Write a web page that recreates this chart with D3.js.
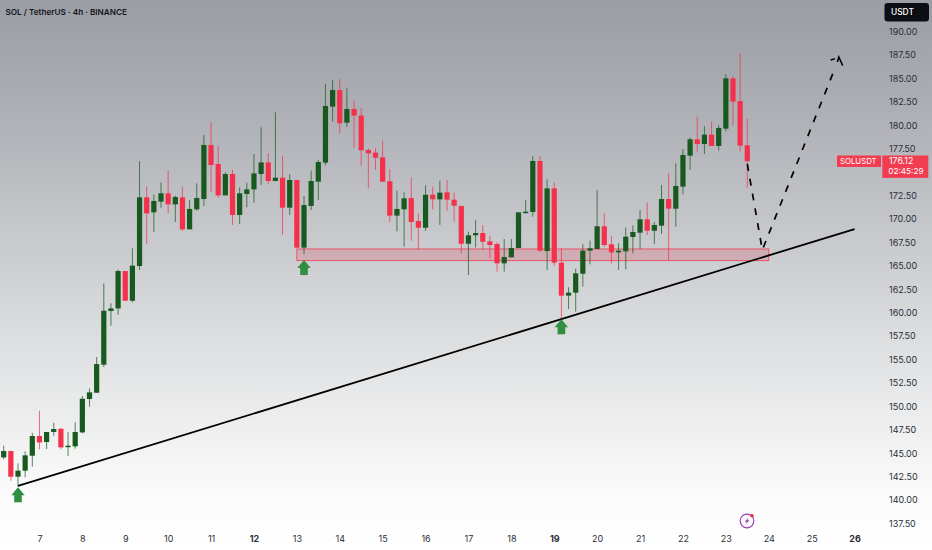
<!DOCTYPE html>
<html>
<head>
<meta charset="utf-8">
<script src="https://cdn.jsdelivr.net/npm/d3@7"></script>
<style>
  html, body { margin: 0; padding: 0; background: #fff; }
  svg { display: block; }
  text { font-family: Inter, "Noto Sans", sans-serif; }
</style>
</head>
<body>
<div id="chart"></div>
<script>
// 4h candles
const opens = [
  144.50, 145.18, 142.44, 143.08, 144.68, 146.78, 146.14, 147.21, 147.56, 145.68,
  145.68, 147.17, 150.73, 151.40, 154.39, 160.12, 160.40, 164.39, 161.22, 164.92,
  172.25, 170.65, 171.79, 172.68, 171.50, 172.25, 168.84, 170.97, 172.07, 177.84,
  175.81, 172.46, 174.74, 170.37, 172.61, 173.10, 174.74, 175.98, 173.99, 174.35,
  171.15, 174.10, 166.88, 171.33, 173.92, 175.95, 181.93, 183.70, 180.22, 181.68,
  180.97, 177.30, 177.02, 176.52, 173.96, 170.30, 170.97, 172.18, 169.73, 169.01,
  172.53, 172.04, 172.78, 172.00, 171.33, 167.30, 168.20, 168.44, 167.55, 167.27,
  165.21, 165.85, 166.84, 170.60, 170.69, 176.13, 166.52, 173.21, 165.28, 161.76,
  162.08, 164.10, 166.56, 166.74, 169.16, 167.24, 166.38, 166.49, 168.02, 168.48,
  169.90, 168.69, 169.23, 172.07, 171.04, 173.39, 176.70, 178.44, 177.94, 178.94,
  177.73, 179.58, 184.95, 182.53, 177.80
];
const closes = [
  145.18, 142.44, 143.08, 144.72, 146.78, 146.10, 147.21, 147.53, 145.57, 145.75,
  147.21, 150.76, 151.44, 154.46, 160.15, 160.40, 164.39, 161.22, 164.96, 172.25,
  170.54, 171.86, 172.68, 171.50, 172.29, 168.84, 171.01, 172.18, 177.84, 175.70,
  172.46, 174.74, 170.37, 172.68, 173.10, 174.81, 175.98, 173.99, 174.35, 171.15,
  174.10, 166.88, 171.43, 173.99, 176.02, 182.00, 183.70, 180.15, 181.68, 180.97,
  177.27, 176.95, 176.48, 173.92, 170.30, 171.01, 172.14, 169.62, 169.01, 172.53,
  172.04, 172.75, 172.00, 171.36, 167.30, 168.20, 168.44, 167.52, 167.16, 165.21,
  165.88, 166.84, 170.65, 170.72, 176.13, 166.56, 173.21, 165.28, 161.76, 162.08,
  164.14, 166.56, 166.81, 169.16, 167.16, 166.38, 166.56, 168.05, 168.55, 169.90,
  168.69, 169.30, 172.07, 171.04, 173.46, 176.77, 178.44, 177.94, 178.94, 177.73,
  179.65, 184.95, 182.46, 177.76, 176.12
];
const highs = [
  145.75, 145.20, 143.86, 145.14, 147.13, 149.48, 147.21, 148.20, 147.60, 147.21,
  148.24, 151.05, 151.87, 155.21, 163.07, 160.94, 164.56, 164.40, 166.81, 176.09,
  173.39, 172.54, 173.82, 175.10, 172.43, 173.39, 171.97, 173.74, 178.90, 180.22,
  177.73, 174.92, 175.17, 173.32, 173.82, 176.87, 179.72, 176.95, 181.32, 176.66,
  174.70, 174.10, 172.39, 175.10, 176.23, 184.34, 184.77, 184.88, 183.88, 182.57,
  181.75, 177.48, 177.48, 178.30, 175.27, 172.96, 172.78, 174.38, 170.54, 173.53,
  173.39, 174.03, 174.10, 172.75, 171.33, 168.59, 169.83, 169.30, 168.13, 167.45,
  167.80, 167.80, 170.65, 171.97, 176.66, 176.66, 174.17, 173.82, 166.81, 162.65,
  164.64, 167.27, 167.63, 173.03, 170.54, 168.12, 167.34, 169.05, 169.26, 170.90,
  171.72, 169.62, 173.57, 174.81, 175.88, 177.41, 178.65, 180.86, 179.86, 180.33,
  179.93, 185.38, 185.20, 187.62, 180.65
];
const lows = [
  144.29, 142.01, 141.37, 142.37, 143.51, 145.36, 145.39, 146.81, 145.36, 144.64,
  145.43, 147.06, 149.91, 151.40, 154.14, 158.55, 159.73, 161.20, 161.05, 164.50,
  167.27, 168.55, 171.15, 170.54, 169.62, 168.66, 168.84, 170.83, 171.33, 172.82,
  172.22, 172.46, 169.30, 169.40, 171.18, 171.68, 173.57, 173.67, 173.99, 168.27,
  170.37, 166.85, 166.20, 170.90, 171.96, 175.67, 180.32, 179.08, 179.79, 177.55,
  175.60, 173.21, 175.17, 173.92, 169.62, 168.62, 166.99, 167.63, 166.70, 168.66,
  170.97, 169.30, 170.83, 169.65, 166.27, 163.96, 166.90, 166.70, 165.74, 164.32,
  164.32, 165.85, 166.84, 170.54, 170.19, 166.45, 164.50, 164.92, 159.34, 160.33,
  160.05, 162.72, 165.10, 166.74, 166.99, 165.21, 164.50, 164.57, 166.28, 166.74,
  168.23, 167.27, 168.34, 165.56, 169.12, 172.57, 175.17, 177.09, 176.87, 177.73,
  177.23, 179.29, 179.93, 177.12, 173.28
];

// 175.00 is covered by the last price tag, so it is not listed
const priceTicks = [190, 187.5, 185, 182.5, 180, 177.5, 172.5, 170, 167.5, 165,
  162.5, 160, 157.5, 155, 152.5, 150, 147.5, 145, 142.5, 140, 137.5];
const dayLabels = [7, 8, 9, 10, 11, 12, 13, 14, 15, 16, 17, 18, 19, 20, 21, 22, 23, 24, 25, 26];
const dayCandle = [5, 11, 17, 23, 29, 35, 41, 47, 53, 59, 65, 71, 77, 83, 89, 95, 101, 107, 113, 119];
const boldDays = [12, 19, 26];

const lastPrice = 176.12;
const countdown = "02:45:29";

// drawings, as candle index / price
const zoneIdx = [41, 107];
const zonePrice = [166.74, 165.5];
const trendIdx = [2, 119];
const trendPrice = [141.45, 168.87];
const pathIdx = [104, 106.1, 116.05];
const pathPrice = [175.81, 166.63, 185.62];
const headLeftIdx = [115.66, 116.26];
const headLeftPrice = [186.9, 187.05];
const headRightIdx = [116.6, 116.8, 117.34];
const headRightPrice = [186.69, 187.23, 186.3];
const arrowIdx = [2, 42, 78];
const arrowPrice = [141.31, 165.56, 159.23];

const w = 932, h = 550;
const up = "#17591f", down = "#f5304a";

const x = d3.scaleLinear().domain([0, 104]).range([3.7, 747.3]);
const y = d3.scaleLinear().domain([137.5, 190]).range([523, 31]);

const svg = d3.select("#chart").append("svg").attr("width", w).attr("height", h);

const grad = svg.append("defs").append("linearGradient")
  .attr("id", "bg").attr("x1", 0).attr("y1", 0).attr("x2", 0).attr("y2", 1);
[[0, "#9b9da5"], [0.2, "#adafb5"], [0.45, "#c9cbce"], [0.7, "#e6e7e8"], [0.9, "#fbfbfb"], [1, "#ffffff"]]
  .forEach((s) => grad.append("stop").attr("offset", s[0]).attr("stop-color", s[1]));
svg.append("rect").attr("width", w).attr("height", h).attr("fill", "url(#bg)");

const candles = d3.range(opens.length).map((i) => ({
  i: i, o: opens[i], c: closes[i], h: highs[i], l: lows[i]
}));

// zone goes under the candles
svg.append("rect")
  .attr("x", x(zoneIdx[0]))
  .attr("y", y(zonePrice[0]))
  .attr("width", x(zoneIdx[1]) - x(zoneIdx[0]))
  .attr("height", y(zonePrice[1]) - y(zonePrice[0]))
  .attr("fill", "#e0566a")
  .attr("fill-opacity", 0.28)
  .attr("stroke", "#e8566a")
  .attr("stroke-width", 1);

const bars = svg.append("g").selectAll("g").data(candles).enter().append("g");

bars.append("line")
  .attr("x1", (d) => x(d.i))
  .attr("x2", (d) => x(d.i))
  .attr("y1", (d) => y(d.h))
  .attr("y2", (d) => y(d.l))
  .attr("stroke", (d) => (d.c >= d.o ? up : down))
  .attr("stroke-opacity", 0.72)
  .attr("stroke-width", 1);

bars.append("rect")
  .attr("x", (d) => x(d.i) - 2.6)
  .attr("width", 5.2)
  .attr("y", (d) => y(Math.max(d.o, d.c)))
  .attr("height", (d) => Math.max(1.5, Math.abs(y(d.o) - y(d.c))))
  .attr("fill", (d) => (d.c >= d.o ? up : down));

// trend line
const idxLine = d3.line().x((d) => x(d[0])).y((d) => y(d[1]));
svg.append("path")
  .attr("d", idxLine(d3.zip(trendIdx, trendPrice)))
  .attr("fill", "none")
  .attr("stroke", "#000")
  .attr("stroke-width", 1.8);

// projected path, dashed, then a small broken arrow head
svg.append("path")
  .attr("d", idxLine(d3.zip(pathIdx, pathPrice)))
  .attr("fill", "none")
  .attr("stroke", "#000")
  .attr("stroke-width", 1.7)
  .attr("stroke-dasharray", "7 8");
[d3.zip(headLeftIdx, headLeftPrice), d3.zip(headRightIdx, headRightPrice)].forEach((pts) => {
  svg.append("path")
    .attr("d", idxLine(pts))
    .attr("fill", "none")
    .attr("stroke", "#000")
    .attr("stroke-width", 1.5);
});

// green up arrows, shape is relative to the tip
const arrowShape = "M0,0 L6.7,8 L3.8,8 L3.8,15 L-3.8,15 L-3.8,8 L-6.7,8 Z";
svg.append("g").selectAll("path").data(d3.zip(arrowIdx, arrowPrice)).enter().append("path")
  .attr("d", arrowShape)
  .attr("transform", (d) => "translate(" + x(d[0]) + "," + y(d[1]) + ")")
  .attr("fill", "#2f8f3f");

// right price axis
const yAxis = d3.axisRight(y)
  .tickValues(priceTicks)
  .tickSize(0)
  .tickPadding(0)
  .tickFormat(d3.format(".2f"));
const yg = svg.append("g").attr("transform", "translate(889,0.4)").call(yAxis);
yg.select(".domain").remove();
yg.selectAll("text")
  .attr("font-family", "Inter, sans-serif")
  .attr("font-size", 9)
  .attr("fill", "#2a2e39");

// bottom time axis
const xAxis = d3.axisBottom(x)
  .tickValues(dayCandle)
  .tickSize(0)
  .tickPadding(0)
  .tickFormat((d) => dayLabels[dayCandle.indexOf(d)]);
const xg = svg.append("g").attr("transform", "translate(0,536)").call(xAxis);
xg.select(".domain").remove();
xg.selectAll("text")
  .attr("font-family", "Inter, sans-serif")
  .attr("font-size", 9)
  .attr("fill", "#2a2e39")
  .attr("font-weight", (d) => (boldDays.includes(dayLabels[dayCandle.indexOf(d)]) ? 700 : 400));

// title
svg.append("text")
  .attr("x", 5.5).attr("y", 14.5)
  .attr("font-family", "'Noto Sans', sans-serif")
  .attr("font-size", 8.2)
  .attr("font-weight", 600)
  .attr("fill", "#131722")
  .text("SOL / TetherUS · 4h · BINANCE");

// currency button
svg.append("rect")
  .attr("x", 884.5).attr("y", 3).attr("width", 44.5).attr("height", 18.5).attr("rx", 3)
  .attr("fill", "#0c0e13");
svg.append("text")
  .attr("x", 891).attr("y", 15)
  .attr("font-size", 8.4).attr("font-weight", 500).attr("fill", "#fff")
  .text("USDT");

// last price tags
const tagY = y(lastPrice);
svg.append("rect")
  .attr("x", 837).attr("y", tagY - 5.6).attr("width", 44).attr("height", 11.5)
  .attr("fill", "#f23c50");
svg.append("text")
  .attr("x", 840).attr("y", tagY + 3)
  .attr("font-size", 7.8).attr("fill", "#fff")
  .text("SOLUSDT");
svg.append("rect")
  .attr("x", 882.3).attr("y", tagY - 5.6).attr("width", 46).attr("height", 22.4)
  .attr("fill", "#f23c50");
svg.append("text")
  .attr("x", 889).attr("y", tagY + 3)
  .attr("font-size", 8.8).attr("fill", "#fff")
  .text(lastPrice.toFixed(2));
svg.append("text")
  .attr("x", 888.3).attr("y", tagY + 13.4)
  .attr("font-size", 8.2).attr("fill", "#fff")
  .text(countdown);

// purple flash icon near the bottom
const icon = svg.append("g").attr("transform", "translate(747,521)");
icon.append("circle").attr("r", 6.8).attr("fill", "none").attr("stroke", "#a03fb5").attr("stroke-width", 1.2);
icon.append("path").attr("d", "M1.6,-3.8 L-2.2,0.8 L-0.2,0.8 L-1.6,3.8 L2.4,-0.8 L0.4,-0.8 Z").attr("fill", "#a03fb5");
icon.append("circle").attr("cx", 5).attr("cy", -5.2).attr("r", 1.8).attr("fill", "#e5304a");
</script>
</body>
</html>
